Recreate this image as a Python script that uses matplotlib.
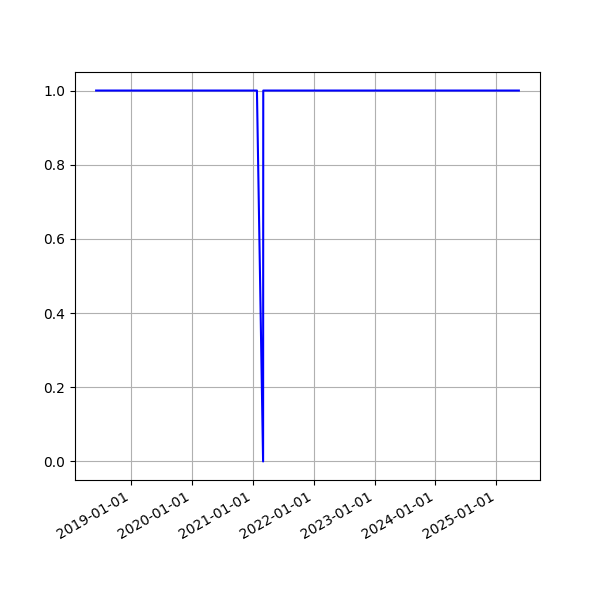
#!/usr/bin/env python3
"""
Availability flag over time, with one outage in early 2021.
"""

import matplotlib
matplotlib.use('Agg')
import matplotlib.pyplot as plt
import matplotlib.dates as mdates
import pandas as pd

# Observation dates and status values (1 = up, 0 = down)
dates = ['2018-06-05', '2021-01-25', '2021-03-03', '2021-03-04', '2025-05-16']
status = [1, 1, 0, 1, 1]

dates = pd.to_datetime(dates)

fig, ax = plt.subplots(figsize=(6, 6), dpi=100)
ax.plot(dates, status, color='blue')

ax.xaxis.set_major_locator(mdates.YearLocator())
ax.xaxis.set_major_formatter(mdates.DateFormatter('%Y-%m-%d'))
ax.grid(True)
fig.autofmt_xdate()

plt.savefig('out.png', dpi=100)
